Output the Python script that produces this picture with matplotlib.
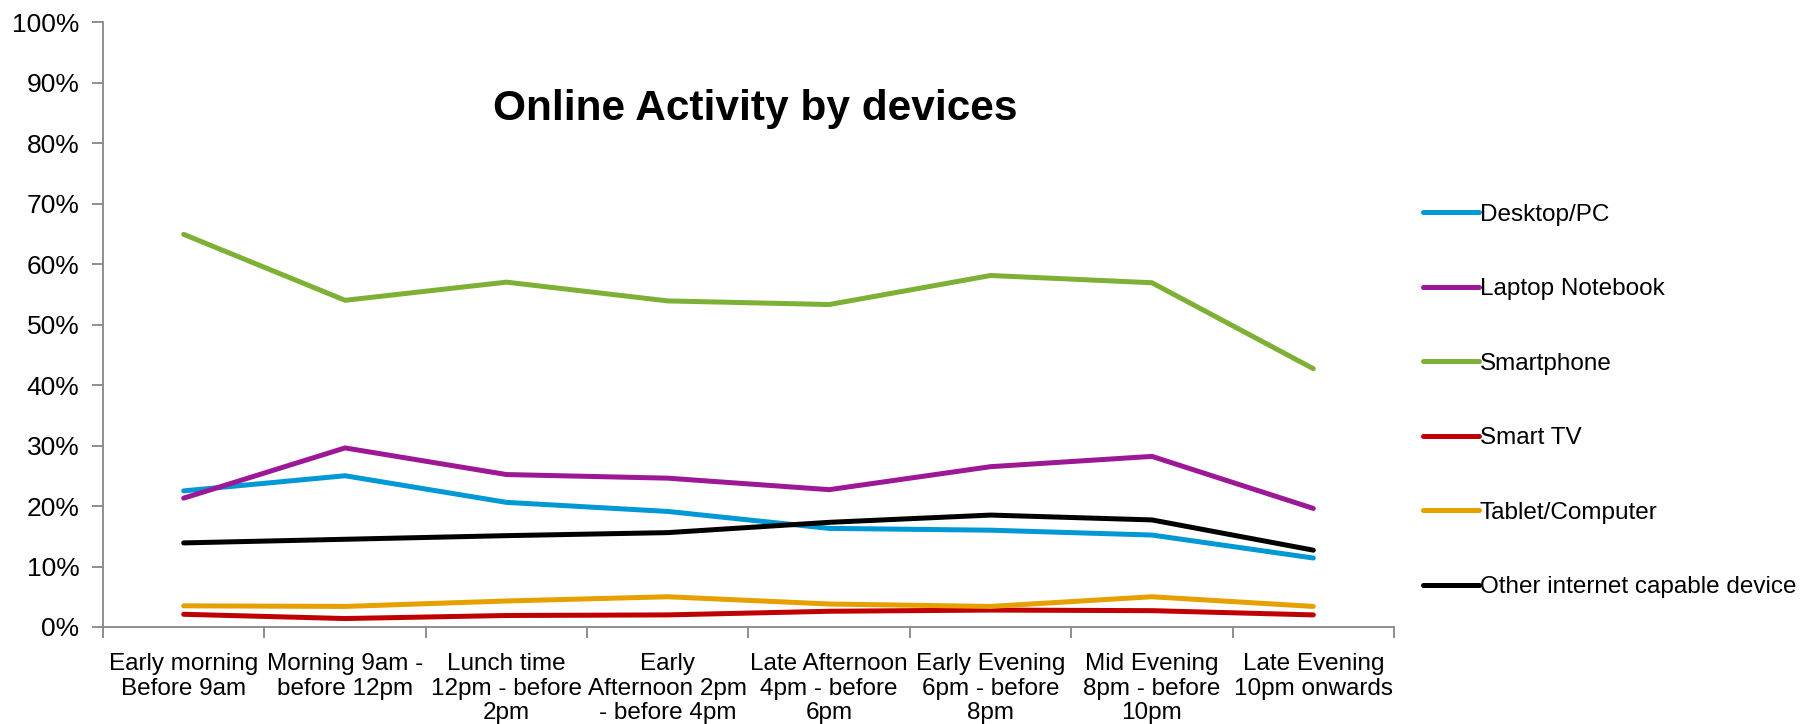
import numpy as np
import matplotlib.pyplot as plt
from matplotlib.ticker import PercentFormatter, FixedLocator

plt.rcParams['font.family'] = ['Liberation Sans', 'DejaVu Sans']

periods = ["Early morning\nBefore 9am", "Morning 9am -\nbefore 12pm",
           "Lunch time\n12pm - before\n2pm", "Early\nAfternoon 2pm\n- before 4pm",
           "Late Afternoon\n4pm - before\n6pm", "Early Evening\n6pm - before\n8pm",
           "Mid Evening\n8pm - before\n10pm", "Late Evening\n10pm onwards"]

desktop = [22.5, 25.0, 20.6, 19.1, 16.3, 16.0, 15.2, 11.4]
laptop = [21.3, 29.6, 25.2, 24.6, 22.7, 26.5, 28.2, 19.6]
smartphone = [64.9, 54.0, 57.0, 53.9, 53.3, 58.1, 56.9, 42.7]
smart_tv = [2.1, 1.4, 1.9, 2.0, 2.6, 2.8, 2.7, 2.0]
tablet = [3.5, 3.4, 4.3, 5.0, 3.8, 3.4, 5.0, 3.4]
other = [13.9, 14.5, 15.1, 15.6, 17.3, 18.5, 17.7, 12.7]

series = [("Desktop/PC", desktop, "#0099d5"),
          ("Laptop Notebook", laptop, "#9c1896"),
          ("Smartphone", smartphone, "#7db035"),
          ("Smart TV", smart_tv, "#c00000"),
          ("Tablet/Computer", tablet, "#e6a000"),
          ("Other internet capable device", other, "#000000")]

fig = plt.figure(figsize=(18, 7.24), dpi=100)
ax = fig.add_axes([103/1800, 1 - 627/724, (1394 - 103)/1800, (627 - 22)/724])

x = np.arange(len(periods))
for name, vals, col in series:
    ax.plot(x, vals, color=col, lw=3.6, label=name, solid_capstyle='round')

ax.set_xlim(-0.5, len(periods) - 0.5)
ax.set_ylim(0, 100)
ax.yaxis.set_major_locator(FixedLocator(np.arange(0, 101, 10)))
ax.yaxis.set_major_formatter(PercentFormatter(decimals=0))

# category boundaries get the tick marks, centres get the labels
ax.set_xticks(np.arange(-0.5, len(periods), 1))
ax.set_xticklabels([])
ax.set_xticks(x, minor=True)
ax.set_xticklabels(periods, minor=True, fontsize=17.5, linespacing=1.15)
ax.tick_params(axis='x', which='minor', length=0, pad=19)
ax.tick_params(axis='x', which='major', length=8, width=1.3, color='#868686')
ax.tick_params(axis='y', length=8, width=1.3, color='#868686', labelsize=19, pad=9)

for side in ['top', 'right']:
    ax.spines[side].set_visible(False)
for side in ['left', 'bottom']:
    ax.spines[side].set_color('#868686')
    ax.spines[side].set_linewidth(1.3)

fig.text(755/1800, 1 - 109/724, "Online Activity by devices", fontsize=30.5,
         fontweight='bold', ha='center', va='center')

fig.legend(loc='upper left', bbox_to_anchor=(1413/1800, 1 - 194/724),
           frameon=False, fontsize=17.5, handlelength=2.3, handletextpad=0.05,
           labelspacing=2.16, borderaxespad=0)

fig.savefig("out.png", dpi=100)
